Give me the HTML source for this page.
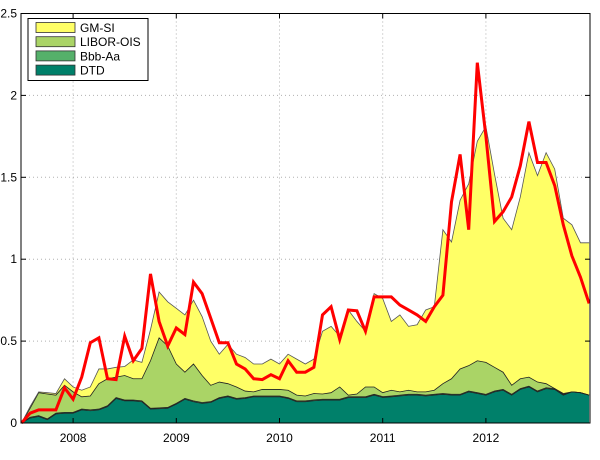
<!DOCTYPE html>
<html><head><meta charset="utf-8">
<style>
html,body{margin:0;padding:0;background:#fff;}
svg{display:block;font-family:"Liberation Sans",sans-serif;}
</style></head>
<body>
<svg id="chart" width="600" height="460"></svg>
<script>
const months = ["2007-07","2007-08","2007-09","2007-10","2007-11","2007-12","2008-01","2008-02","2008-03","2008-04","2008-05","2008-06","2008-07","2008-08","2008-09","2008-10","2008-11","2008-12","2009-01","2009-02","2009-03","2009-04","2009-05","2009-06","2009-07","2009-08","2009-09","2009-10","2009-11","2009-12","2010-01","2010-02","2010-03","2010-04","2010-05","2010-06","2010-07","2010-08","2010-09","2010-10","2010-11","2010-12","2011-01","2011-02","2011-03","2011-04","2011-05","2011-06","2011-07","2011-08","2011-09","2011-10","2011-11","2011-12","2012-01","2012-02","2012-03","2012-04","2012-05","2012-06","2012-07","2012-08","2012-09","2012-10","2012-11","2012-12","2013-01"];
const dtd = [0,0.03,0.04,0.02,0.055,0.06,0.06,0.08,0.075,0.08,0.10,0.15,0.135,0.135,0.13,0.085,0.087,0.09,0.115,0.145,0.13,0.12,0.125,0.15,0.16,0.145,0.15,0.16,0.16,0.16,0.16,0.15,0.13,0.13,0.136,0.14,0.14,0.14,0.155,0.155,0.155,0.17,0.156,0.16,0.165,0.17,0.17,0.165,0.17,0.175,0.17,0.17,0.19,0.18,0.17,0.19,0.20,0.17,0.205,0.22,0.19,0.21,0.205,0.17,0.19,0.185,0.17];
const bbb = [0,0.005,0.005,0.005,0.005,0.005,0.005,0.005,0.005,0.005,0.005,0.005,0.005,0.005,0.005,0.005,0.005,0.005,0.005,0.005,0.005,0.005,0.005,0.005,0.005,0.005,0.005,0.005,0.005,0.005,0.005,0.005,0.005,0.005,0.005,0.005,0.005,0.005,0.005,0.005,0.005,0.005,0.005,0.005,0.005,0.005,0.005,0.005,0.005,0.005,0.005,0.005,0.005,0.005,0.005,0.005,0.005,0.005,0.005,0.005,0.005,0.005,0.005,0.005,0,0,0];
const libor = [0,0.055,0.14,0.152,0.11,0.165,0.125,0.075,0.085,0.155,0.165,0.125,0.15,0.13,0.135,0.29,0.428,0.375,0.24,0.16,0.225,0.165,0.10,0.095,0.075,0.07,0.04,0.025,0.04,0.04,0.04,0.045,0.035,0.03,0.039,0.032,0.04,0.075,0.01,0.017,0.06,0.045,0.024,0.035,0.02,0.025,0.015,0.02,0.025,0.06,0.095,0.155,0.155,0.195,0.195,0.145,0.105,0.055,0.06,0.055,0.055,0.025,0,0.005,0,0,0];
const gmsi = [0,0.01,0.005,0.008,0.01,0.04,0.03,0.04,0.055,0.09,0.06,0.06,0.055,0.115,0.10,0.19,0.28,0.27,0.34,0.35,0.39,0.36,0.27,0.17,0.24,0.20,0.205,0.17,0.155,0.185,0.155,0.22,0.22,0.195,0.21,0.383,0.405,0.31,0.52,0.443,0.34,0.57,0.575,0.42,0.47,0.39,0.41,0.50,0.51,0.94,0.835,1.03,1.11,1.34,1.44,1.18,0.94,0.95,1.11,1.37,1.26,1.41,1.34,1.07,1.02,0.915,0.93];
const total = [0,0.06,0.08,0.08,0.08,0.215,0.145,0.28,0.49,0.52,0.27,0.265,0.53,0.38,0.455,0.91,0.62,0.47,0.58,0.54,0.86,0.79,0.64,0.49,0.49,0.36,0.33,0.27,0.265,0.295,0.27,0.38,0.31,0.31,0.34,0.66,0.71,0.51,0.69,0.685,0.56,0.77,0.77,0.77,0.72,0.69,0.66,0.62,0.71,0.78,1.35,1.64,1.18,2.20,1.75,1.23,1.29,1.38,1.57,1.84,1.59,1.59,1.45,1.21,1.02,0.89,0.73];
const yTicks = [0,0.5,1,1.5,2,2.5];
const yTickLabels = ["0","0.5","1","1.5","2","2.5"];
const xTickYears = [2008,2009,2010,2011,2012];
const xTickLabels = ["2008","2009","2010","2011","2012"];

const L=21,R=590,T=13.5,B=423;
const ns="http://www.w3.org/2000/svg";
const svg=document.getElementById('chart');
function xi(i){return 21.5+(i)*(567.6/(months.length-1));}
function xYear(y){const i=(y-2007.5)*12;return xi(i);}
function yv(v){return B-(v/2.5)*(B-T);}
function mk(tag,attrs,parent){const e=document.createElementNS(ns,tag);for(const k in attrs)e.setAttribute(k,attrs[k]);(parent||svg).appendChild(e);return e;}

// grid
const grid=mk('g',{});


yTicks.forEach(v=>{if(v>0&&v<2.5){const l=mk('line',{x1:L,x2:R,y1:yv(v),y2:yv(v),stroke:'#b0b0b0','stroke-dasharray':'1,3','stroke-width':1},grid);

}});
xTickYears.forEach(y=>{const l=mk('line',{x1:xYear(y),x2:xYear(y),y1:T,y2:B,stroke:'#b0b0b0','stroke-dasharray':'1,3','stroke-width':1},grid);

});

// stacked areas
const layers=[{name:'dtd',data:dtd,fill:'#00806a'},{name:'bbb-aa',data:bbb,fill:'#55b06a'},{name:'libor-ois',data:libor,fill:'#aad466'},{name:'gm-si',data:gmsi,fill:'#ffff66'}];
let base=months.map(()=>0);
const areas=[];
layers.forEach(ly=>{
  const top=base.map((b,i)=>b+ly.data[i]);
  let d='M'+xi(0)+','+yv(top[0]);
  for(let i=1;i<top.length;i++)d+=' L'+xi(i)+','+yv(top[i]);
  for(let i=top.length-1;i>=0;i--)d+=' L'+xi(i)+','+yv(base[i]);
  d+='Z';
  areas.push({d,top,fill:ly.fill,name:ly.name});
  base=top;
});
areas.slice().reverse().forEach(a=>{
  const p=mk('path',{d:a.d,fill:a.fill,stroke:'none'});
  
  
});
// re-draw in proper order (bottom on top visually doesn't matter since stacked)
areas.forEach(a=>{
  let d='M'+xi(0)+','+yv(a.top[0]);
  for(let i=1;i<a.top.length;i++)d+=' L'+xi(i)+','+yv(a.top[i]);
  const p=mk('path',{d,fill:'none',stroke:a.name==='gm-si'?'#555':'#222','stroke-width':0.8});
  
  
});

// red total line
let rd='M'+xi(0)+','+yv(total[0]);
for(let i=1;i<total.length;i++)rd+=' L'+xi(i)+','+yv(total[i]);
const rl=mk('path',{d:rd,fill:'none',stroke:'#ff0000','stroke-width':3,'stroke-linejoin':'miter'});



// frame
const fr=mk('rect',{x:L,y:T,width:R-L,height:B-T,fill:'none',stroke:'#000','stroke-width':1});



// ticks & labels
yTicks.forEach((v,k)=>{
  mk('line',{x1:L,x2:L+5,y1:yv(v),y2:yv(v),stroke:'#000'});
  mk('line',{x1:R,x2:R-5,y1:yv(v),y2:yv(v),stroke:'#000'});
  const t=mk('text',{x:L-4,y:yv(v)+4,'text-anchor':'end','font-size':12,fill:'#000'});
  t.textContent=yTickLabels[k];
  
  
});
xTickYears.forEach((y,k)=>{
  mk('line',{x1:xYear(y),x2:xYear(y),y1:B,y2:B-5,stroke:'#000'});
  mk('line',{x1:xYear(y),x2:xYear(y),y1:T,y2:T+5,stroke:'#000'});
  const t=mk('text',{x:xYear(y),y:442,'text-anchor':'middle','font-size':12,fill:'#000'});
  t.textContent=xTickLabels[k];
  
  
});

// legend
const lg=mk('g',{});


mk('rect',{x:28,y:18.5,width:120,height:62,fill:'#fff',stroke:'#000','stroke-width':1},lg);
const entries=[['GM-SI','#ffff66'],['LIBOR-OIS','#aad466'],['Bbb-Aa','#55b06a'],['DTD','#00806a']];
entries.forEach((e,k)=>{
  const cy=27.5+k*14.2;
  const g=mk('g',{},lg);
  
  
  mk('rect',{x:36,y:cy-5,width:39,height:10,fill:e[1],stroke:'#333','stroke-width':0.8},g);
  const t=mk('text',{x:80,y:cy+4.5,'font-size':12,fill:'#000'},g);
  t.textContent=e[0];
});
</script>
</body></html>
